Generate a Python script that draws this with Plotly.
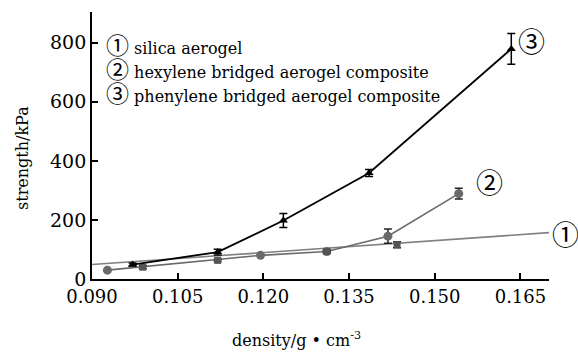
import plotly.graph_objects as go

# Data
silica_x = [0.0989, 0.1120, 0.1311, 0.1434]
silica_y = [40, 63, 93, 116]
silica_err = [5, 4, 4, 10]
silica_fit_x = [0.090, 0.170]
silica_fit_y = [49, 157]

hex_x = [0.0927, 0.1195, 0.1311, 0.1418, 0.1542]
hex_y = [30, 80, 93, 145, 289]
hex_err = [0, 0, 0, 24, 18]

phen_x = [0.0971, 0.1120, 0.1235, 0.1385, 0.1634]
phen_y = [49, 91, 198, 359, 779]
phen_err = [5, 10, 24, 12, 52]

x_ticks = [0.090, 0.105, 0.120, 0.135, 0.150, 0.165]
y_ticks = [0, 200, 400, 600, 800]

legend_marks = ["①", "②", "③"]
legend_texts = ["silica aerogel",
                "hexylene bridged aerogel composite",
                "phenylene bridged aerogel composite"]

FONT = "DejaVu Serif"
CJK = "Noto Sans CJK SC"
GRAY1 = "#808080"
GRAY2 = "#6a6a6a"

W, H = 578, 355
L, R, T, B = 92, 29, 12, 76
pw, ph = W - L - R, H - T - B

fig = go.Figure()

fig.add_trace(go.Scatter(x=silica_fit_x, y=silica_fit_y, mode="lines",
                         line=dict(color=GRAY1, width=1.6), hoverinfo="skip"))
fig.add_trace(go.Scatter(x=hex_x, y=hex_y, mode="lines+markers",
                         line=dict(color=GRAY2, width=1.6),
                         marker=dict(symbol="circle", size=9, color=GRAY2),
                         error_y=dict(type="data", array=hex_err, color="#222",
                                      thickness=1.5, width=4)))
fig.add_trace(go.Scatter(x=silica_x, y=silica_y, mode="markers",
                         marker=dict(symbol="square", size=7, color="#555"),
                         error_y=dict(type="data", array=silica_err, color="#222",
                                      thickness=1.5, width=4)))
fig.add_trace(go.Scatter(x=phen_x, y=phen_y, mode="lines+markers",
                         line=dict(color="black", width=1.8),
                         marker=dict(symbol="triangle-up", size=8, color="black"),
                         error_y=dict(type="data", array=phen_err, color="black",
                                      thickness=1.5, width=4)))

legend_html = "<br>".join(
    f"<span style='font-family:{CJK};font-size:23px'>{m}</span>"
    f"<span style='font-size:16px'> {t}</span>"
    for m, t in zip(legend_marks, legend_texts))

annotations = [
    dict(x=(104 - L) / pw, y=(H - 68 - B) / ph, xref="paper", yref="paper",
         text=legend_html, showarrow=False, xanchor="left", yanchor="middle",
         align="left", font=dict(family=FONT, size=18.5, color="black")),
    dict(x=silica_fit_x[-1], y=silica_fit_y[-1], xref="x", yref="y", text="①",
         showarrow=False, xanchor="center", yanchor="middle", xshift=16, yshift=-1,
         font=dict(family=CJK, size=27, color="black")),
    dict(x=hex_x[-1], y=hex_y[-1], xref="x", yref="y", text="②",
         showarrow=False, xanchor="center", yanchor="middle", xshift=31, yshift=12,
         font=dict(family=CJK, size=27, color="black")),
    dict(x=phen_x[-1], y=phen_y[-1], xref="x", yref="y", text="③",
         showarrow=False, xanchor="center", yanchor="middle", xshift=20, yshift=8,
         font=dict(family=CJK, size=27, color="black")),
    dict(x=(22 - L) / pw, y=(H - 158 - B) / ph, xref="paper", yref="paper",
         text="strength/kPa", showarrow=False, textangle=-90,
         xanchor="center", yanchor="middle",
         font=dict(family=FONT, size=16, color="black")),
    dict(x=(296 - L) / pw, y=(H - 340 - B) / ph, xref="paper", yref="paper",
         text="density/g • cm<sup>-3</sup>", showarrow=False,
         xanchor="center", yanchor="middle",
         font=dict(family=FONT, size=16, color="black")),
]

fig.update_layout(
    width=W, height=H,
    margin=dict(l=L, r=R, t=T, b=B),
    paper_bgcolor="white", plot_bgcolor="white",
    showlegend=False,
    annotations=annotations,
    font=dict(family=FONT, size=17, color="black"),
)
fig.update_xaxes(range=[0.090, 0.170], tickvals=x_ticks,
                 ticktext=[f"{v:.3f}" for v in x_ticks],
                 ticks="inside", ticklen=6, tickwidth=1.5, tickcolor="black",
                 showline=True, linecolor="black", linewidth=1.8,
                 showgrid=False, zeroline=False,
                 tickfont=dict(family=FONT, size=18))
fig.update_yaxes(range=[0, 904], tickvals=y_ticks,
                 ticks="inside", ticklen=6, tickwidth=1.5, tickcolor="black",
                 showline=True, linecolor="black", linewidth=1.8,
                 showgrid=False, zeroline=False,
                 tickfont=dict(family=FONT, size=19))

fig.write_html("out.html")
